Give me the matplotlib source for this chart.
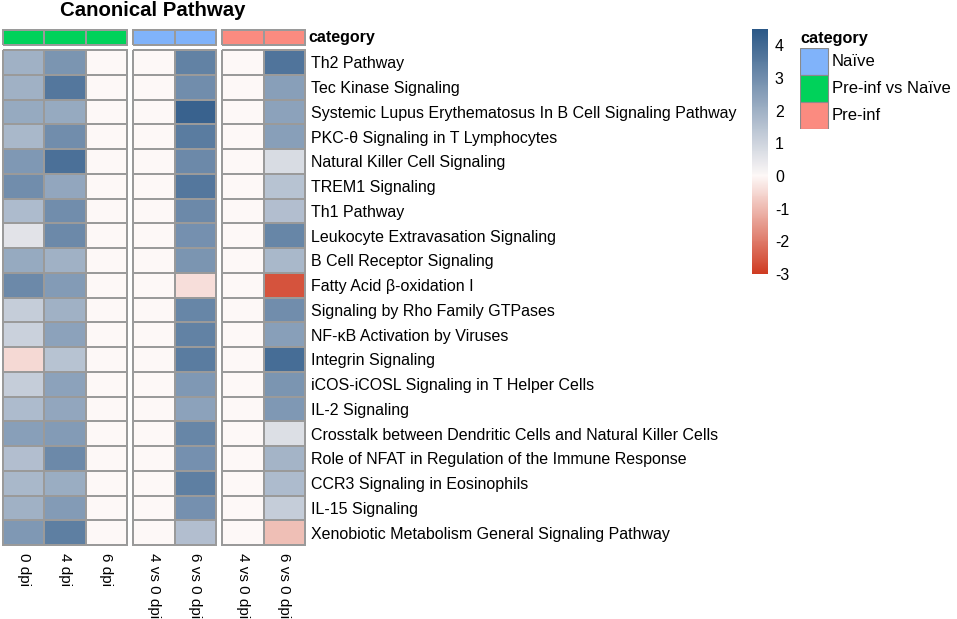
import numpy as np
import matplotlib
matplotlib.use("Agg")
import matplotlib.pyplot as plt
from matplotlib.colors import LinearSegmentedColormap, Normalize, ListedColormap
from matplotlib.patches import Rectangle

plt.rcParams['font.family'] = ['Liberation Sans', 'DejaVu Sans']
plt.rcParams['axes.unicode_minus'] = False

pathways = [
    "Th2 Pathway",
    "Tec Kinase Signaling",
    "Systemic Lupus Erythematosus In B Cell Signaling Pathway",
    "PKC-θ Signaling in T Lymphocytes",
    "Natural Killer Cell Signaling",
    "TREM1 Signaling",
    "Th1 Pathway",
    "Leukocyte Extravasation Signaling",
    "B Cell Receptor Signaling",
    "Fatty Acid β-oxidation I",
    "Signaling by Rho Family GTPases",
    "NF-κB Activation by Viruses",
    "Integrin Signaling",
    "iCOS-iCOSL Signaling in T Helper Cells",
    "IL-2 Signaling",
    "Crosstalk between Dendritic Cells and Natural Killer Cells",
    "Role of NFAT in Regulation of the Immune Response",
    "CCR3 Signaling in Eosinophils",
    "IL-15 Signaling",
    "Xenobiotic Metabolism General Signaling Pathway",
]

# z-scores per column
dpi0 = [2.0, 2.0, 2.2, 1.8, 2.7, 3.0, 1.7, 0.6, 2.2, 3.1,
        1.2, 1.1, -0.5, 1.2, 1.7, 2.5, 1.6, 1.8, 2.0, 2.7]
dpi4 = [2.8, 3.6, 2.2, 3.0, 3.8, 2.3, 3.0, 3.1, 2.0, 2.6,
        2.0, 2.4, 1.5, 2.4, 2.3, 2.6, 3.1, 2.1, 2.6, 3.4]
dpi6 = [0.0] * 20
naive_4v0 = [0.0] * 20
naive_6v0 = [3.3, 3.0, 4.2, 3.5, 3.1, 3.6, 3.1, 2.9, 2.8, -0.4,
             3.2, 3.3, 3.5, 2.7, 2.4, 3.2, 2.9, 3.4, 2.9, 1.6]
pre_4v0 = [0.0] * 20
pre_6v0 = [3.7, 2.5, 2.4, 2.5, 0.8, 1.5, 1.6, 3.2, 1.8, -2.6,
           3.0, 2.5, 3.9, 2.8, 2.7, 0.7, 1.9, 1.7, 1.2, -0.9]

groups = [
    ("Pre-inf vs Naïve", ["0 dpi", "4 dpi", "6 dpi"], [dpi0, dpi4, dpi6]),
    ("Naïve", ["4 vs 0 dpi", "6 vs 0 dpi"], [naive_4v0, naive_6v0]),
    ("Pre-inf", ["4 vs 0 dpi", "6 vs 0 dpi"], [pre_4v0, pre_6v0]),
]
cat_colors = {"Naïve": "#80B3FA", "Pre-inf vs Naïve": "#00D25A", "Pre-inf": "#FB8B80"}
legend_order = ["Naïve", "Pre-inf vs Naïve", "Pre-inf"]

vmin, vmax = -3.0, 4.5
cmap = LinearSegmentedColormap.from_list(
    "rwb", [(0.0, "#CF3B22"), (3 / 7.5, "#FDF8F7"), (1.0, "#2B5887")])
norm = Normalize(vmin, vmax)

W, H = 957, 619
fig = plt.figure(figsize=(W / 100, H / 100), dpi=100)


def px_axes(x0, y0, x1, y1):
    return fig.add_axes([x0 / W, 1 - y1 / H, (x1 - x0) / W, (y1 - y0) / H])


edge = "#9A9A9A"
spans = [(3, 127), (133, 216), (222, 305)]
for gi, ((cat, cols, data), (x0, x1)) in enumerate(zip(groups, spans)):
    # annotation bar
    a = px_axes(x0, 30, x1, 45)
    a.pcolormesh(np.zeros((1, len(cols))), cmap=ListedColormap([cat_colors[cat]]),
                 edgecolors=edge, linewidth=1.2, clip_on=False)
    a.set_xlim(0, len(cols))
    a.set_ylim(0, 1)
    a.axis("off")
    if gi == 2:
        a.text(len(cols) + 0.07, 0.5, "category", fontsize=11.5, fontweight="bold",
               va="center", ha="left")

    # heatmap
    ax = px_axes(x0, 50, x1, 545)
    mat = np.array(data).T
    ax.pcolormesh(mat, cmap=cmap, norm=norm, edgecolors=edge, linewidth=1.2,
                  clip_on=False)
    ax.set_xlim(0, len(cols))
    ax.set_ylim(len(pathways), 0)
    for s in ax.spines.values():
        s.set_visible(False)
    ax.set_xticks(np.arange(len(cols)) + 0.5)
    ax.set_xticklabels(cols, rotation=-90, fontsize=11)
    ax.tick_params(axis="x", length=0, pad=6)
    if gi == 2:
        ax.yaxis.tick_right()
        ax.set_yticks(np.arange(len(pathways)) + 0.5)
        ax.set_yticklabels(pathways, fontsize=11.5)
        ax.tick_params(axis="y", length=0, pad=4)
    else:
        ax.set_yticks([])

fig.text(153 / W, 1 - 11 / H, "Canonical Pathway", fontsize=14.7, fontweight="bold",
         ha="center", va="center")

# colorbar
cax = px_axes(752, 29, 768, 274)
sm = matplotlib.cm.ScalarMappable(norm=norm, cmap=cmap)
cb = fig.colorbar(sm, cax=cax, ticks=[-3, -2, -1, 0, 1, 2, 3, 4])
cb.outline.set_visible(False)
cb.ax.tick_params(length=0, labelsize=11.5, pad=5)

# category legend
fig.text(800 / W, 1 - 38 / H, "category", fontsize=11.7, fontweight="bold",
         ha="left", va="center")
lax = px_axes(800, 48, 955, 129)
lax.set_xlim(0, 155)
lax.set_ylim(3, 0)
lax.axis("off")
for i, name in enumerate(legend_order):
    lax.add_patch(Rectangle((0, i), 28, 1, facecolor=cat_colors[name],
                            edgecolor="#8A8A8A", linewidth=0.8))
    lax.text(32, i + 0.5, name, fontsize=12, va="center", ha="left")

fig.savefig("out.png", dpi=100)
